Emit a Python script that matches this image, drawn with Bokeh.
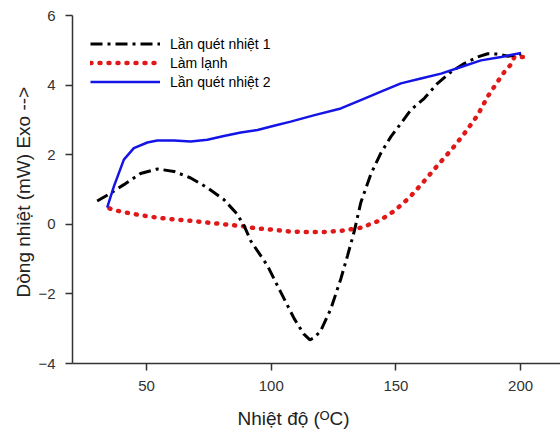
from bokeh.plotting import figure
from bokeh.models import Legend, LegendItem, Range1d, FixedTicker, Title
from bokeh.embed import file_html
from bokeh.resources import INLINE

# Data
scan1_T = [30.2, 35.5, 40.9, 47.6, 54.3, 61.0, 67.7, 74.4, 81.0, 86.4, 89.5, 91.8, 98.5,
           103.8, 109.2, 113.0, 115.5, 117.5, 119.9, 123.9, 127.9, 130.6, 133.3, 135.9,
           140.0, 144.0, 148.0, 152.0, 156.0, 161.4, 166.7, 172.1, 177.4, 182.8, 186.8,
           190.8, 194.9, 197.5, 200.2]
scan1_Q = [0.67, 0.89, 1.14, 1.46, 1.59, 1.52, 1.33, 1.05, 0.71, 0.29, -0.10, -0.48, -1.19,
           -1.95, -2.71, -3.15, -3.32, -3.25, -3.05, -2.43, -1.57, -0.90, -0.20, 0.62,
           1.45, 2.05, 2.52, 2.90, 3.29, 3.62, 4.05, 4.38, 4.62, 4.81, 4.90,
           4.89, 4.83, 4.86, 4.90]

cool_T = [200.9, 197.5, 196.2, 193.4, 190.8, 186.8, 182.8, 178.1, 172.8, 166.7, 160.7,
          155.3, 149.3, 143.3, 139.9, 137.3, 133.9, 127.9, 121.2, 114.5, 107.8, 101.1,
          94.5, 87.8, 81.0, 74.4, 67.7, 61.0, 54.3, 47.6, 40.9, 36.9, 34.2]
cool_Q = [4.81, 4.81, 4.60, 4.37, 4.10, 3.67, 3.14, 2.67, 2.19, 1.69, 1.19,
          0.76, 0.38, 0.10, 0.02, -0.08, -0.12, -0.19, -0.22, -0.22, -0.21, -0.16,
          -0.12, -0.05, 0.00, 0.05, 0.10, 0.14, 0.19, 0.26, 0.35, 0.41, 0.48]

scan2_T = [34.2, 36.9, 40.9, 44.9, 50.3, 54.3, 61.0, 67.7, 74.4, 81.0, 87.8, 94.5, 101.1,
           107.8, 117.0, 127.9, 135.9, 144.0, 152.0, 160.0, 168.1, 176.1, 184.1, 192.2, 200.2]
scan2_Q = [0.48, 1.09, 1.86, 2.19, 2.35, 2.41, 2.41, 2.38, 2.43, 2.54, 2.64, 2.71, 2.83,
           2.95, 3.13, 3.33, 3.57, 3.81, 4.05, 4.19, 4.33, 4.52, 4.71, 4.81, 4.92]

labels = ["Lần quét nhiệt 1", "Làm lạnh", "Lần quét nhiệt 2"]
x_ticks = [50, 100, 150, 200]
y_ticks = [-4, -2, 0, 2, 4, 6]
x_title = "Nhiệt độ (ᴼC)"
y_title = "Dòng nhiệt (mW)  Exo -->"

FONT = "Liberation Sans"

p = figure(width=560, height=440, output_backend="svg", toolbar_location=None,
           x_range=Range1d(20.3, 216), y_range=Range1d(-4, 6),
           min_border_left=72, min_border_right=0, min_border_top=15, min_border_bottom=76)
p.outline_line_color = None
p.grid.grid_line_color = None
p.background_fill_color = "white"
p.border_fill_color = "white"

r_cool = p.line(cool_T, cool_Q, line_color="#e01818", line_width=4.5, line_dash="1 8",
                line_cap="round")
r1 = p.line(scan1_T, scan1_Q, line_color="black", line_width=3, line_dash="12 5 3 5")
r2 = p.line(scan2_T, scan2_Q, line_color="#1414e6", line_width=2.5)

for ax in (p.xaxis[0], p.yaxis[0]):
    ax.axis_line_color = "#333333"
    ax.axis_line_width = 1.5
    ax.major_tick_line_color = "#333333"
    ax.major_tick_line_width = 1.5
    ax.major_tick_out = 7
    ax.major_tick_in = 0
    ax.minor_tick_line_color = None
    ax.major_label_text_font = FONT
    ax.major_label_text_font_size = "15px"
    ax.major_label_text_color = "#333333"
    ax.axis_label_text_font = FONT
    ax.axis_label_text_font_size = "19px"
    ax.axis_label_text_font_style = "normal"
    ax.axis_label_text_color = "#222222"

p.xaxis[0].ticker = FixedTicker(ticks=x_ticks)
p.yaxis[0].ticker = FixedTicker(ticks=y_ticks)
p.yaxis[0].axis_label = y_title
p.xaxis[0].major_label_standoff = 10
p.yaxis[0].major_label_standoff = 10
p.yaxis[0].axis_label_standoff = 1

xt = Title(text=x_title, align="left", offset=165, standoff=24,
           text_font=FONT, text_font_size="19px", text_font_style="normal",
           text_color="#222222")
p.add_layout(xt, "below")

legend = Legend(items=[LegendItem(label=labels[0], renderers=[r1]),
                       LegendItem(label=labels[1], renderers=[r_cool]),
                       LegendItem(label=labels[2], renderers=[r2])],
                location=(18, 272), glyph_width=70, glyph_height=19, label_height=19,
                spacing=0, padding=0, margin=0, label_standoff=10,
                border_line_color=None, background_fill_alpha=0,
                label_text_font=FONT, label_text_font_size="14px", label_text_color="black")
p.add_layout(legend)

open("out.html", "w").write(file_html(p, INLINE))
